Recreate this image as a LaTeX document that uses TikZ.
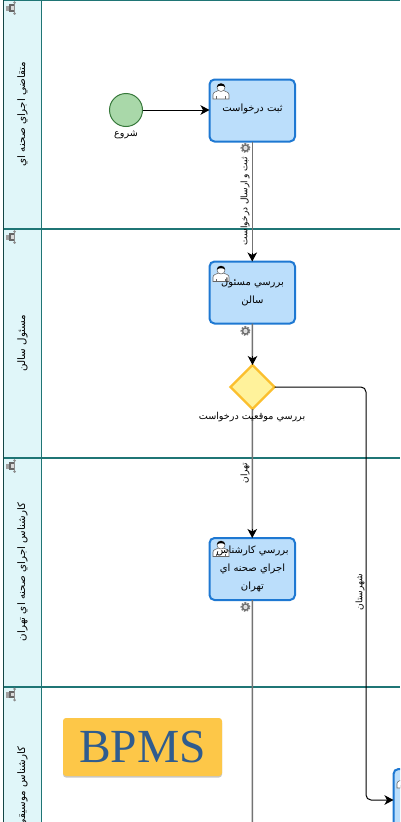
\documentclass[tikz,border=0pt]{standalone}
\usepackage{fontspec}
\usetikzlibrary{arrows.meta,shapes.geometric,shadows}
\TeXXeTstate=1
\newfontfamily\arabicfont[Script=Arabic]{DejaVu Sans}
\newfontfamily\bpmsfont{Liberation Serif}
\newcommand{\fatxt}[1]{\beginR #1\endR}
\definecolor{laneFill}{HTML}{E0F6F9}
\definecolor{laneLine}{HTML}{1F7575}
\definecolor{taskFill}{HTML}{BBDEFB}
\definecolor{taskLine}{HTML}{1E78D2}
\definecolor{startFill}{HTML}{A9D8A9}
\definecolor{startLine}{HTML}{36783A}
\definecolor{gwFill}{HTML}{FFF29B}
\definecolor{gwLine}{HTML}{FBBF2E}
\definecolor{bpmsFill}{HTML}{FDC748}
\definecolor{bpmsText}{HTML}{2F5C8F}
\tikzset{
  lanehead/.style={draw=laneLine,fill=laneFill,line width=1.2pt,minimum width=38pt,minimum height=229pt,inner sep=0pt,outer sep=0pt,anchor=north west},
  lanerule/.style={draw=laneLine,line width=1.1pt},
  lanelabel/.style={rotate=90,font=\arabicfont\fontsize{10.3}{12}\selectfont,inner sep=0pt,text=black},
  taskbox/.style={draw=taskLine,fill=taskFill,line width=2pt,rounded corners=5pt,minimum width=85.5pt,minimum height=62pt,inner sep=0pt,outer sep=0pt,anchor=north west},
  tasktext/.style={font=\arabicfont\fontsize{10}{18.5}\selectfont,align=center,inner sep=0pt,text=black},
  startev/.style={circle,draw=startLine,fill=startFill,line width=1pt,minimum size=33pt,inner sep=0pt,outer sep=0pt},
  gway/.style={diamond,draw=gwLine,fill=gwFill,line width=2.4pt,minimum width=44pt,minimum height=44pt,inner sep=0pt,outer sep=0pt},
  evlabel/.style={font=\arabicfont\fontsize{9.6}{11}\selectfont,inner sep=0pt,text=black},
  edgelabel/.style={rotate=90,font=\arabicfont\fontsize{9}{10}\selectfont,inner sep=0pt,text=black},
  flowg/.style={draw=black!55,line width=1.5pt},
  flowk/.style={draw=black,line width=1pt,rounded corners=5pt},
  tipline/.style={draw=black,line width=1pt,-{Stealth[length=9pt,width=9.5pt,inset=2.5pt]}},
  tip/.style={-{Stealth[length=9pt,width=9.5pt,inset=2.5pt]}},
  bpmsbox/.style={fill=bpmsFill,rounded corners=3pt,minimum width=159pt,minimum height=58pt,inner sep=0pt,outer sep=0pt,anchor=north west,
    text=bpmsText,font=\bpmsfont\fontsize{47.5}{50}\selectfont,drop shadow={shadow xshift=0pt,shadow yshift=-1.5pt,opacity=0.22,fill=black}},
  usericon/.pic={
    \draw[draw=black!60,fill=white,line width=0.55pt] (-8,15) -- (-8,10.5) .. controls (-8,8) and (-4,7.5) .. (-2.5,6.5) -- (2.5,6.5) .. controls (4,7.5) and (8,8) .. (8,10.5) -- (8,15) -- cycle;
    \draw[draw=black!60,fill=white,line width=0.55pt] (0,3.5) circle (4pt);
    \fill[black] (-4.2,3.2) .. controls (-4.2,-1.8) and (4.2,-1.8) .. (4.2,3.2) .. controls (2,1.2) and (-2,1.2) .. (-4.2,3.2) -- cycle;
    \draw[black!60,line width=0.55pt] (-4.5,15) -- (-4.5,12) (4.5,15) -- (4.5,12);
  },
  gearicon/.pic={
    \draw[black!50,line width=2pt,dash pattern=on 1.5pt off 1.3pt] (0,0) circle (4pt);
    \draw[black!55,line width=1.6pt] (0,0) circle (3pt);
    \fill[white!85!black] (0,0) circle (1.6pt);
  },
  laneicon/.pic={
    \fill[black!60] (-2,-4) rectangle (4,3.5);
    \fill[black!38] (-5.5,-2.5) rectangle (-2,3);
    \fill[white!85!black] (0,-2) rectangle (2.6,1.6);
    \draw[black!45,line width=1pt] (3.6,-5.5) -- (3.6,5.5);
    \fill[black!45] (3.6,-5.5) circle (1.4pt) (3.6,5.5) circle (1.4pt);
  }
}
\begin{document}
\begin{tikzpicture}[x=1pt,y=-1pt]
\useasboundingbox (0,0) rectangle (400,822);
\fill[white] (0,0) rectangle (400,822);
\begin{scope}
\clip (0,0) rectangle (400,822);
% lanes
\node[lanehead] (laneA) at (3.5,0) {};
\node[lanehead] (laneB) at (3.5,229) {};
\node[lanehead] (laneC) at (3.5,458) {};
\node[lanehead] (laneD) at (3.5,687) {};
\draw[lanerule] (3,0.5) -- (400,0.5);
\draw[lanerule] (3,229) -- (400,229);
\draw[lanerule] (3,458) -- (400,458);
\draw[lanerule] (3,687) -- (400,687);
\draw[laneLine!60!black,line width=1pt] (3.5,0) -- (3.5,822);
\node[lanelabel] (labA) at (22.5,114) {\fatxt{متقاضي اجراي صحنه اي}};
\node[lanelabel] (labB) at (22.5,343) {\fatxt{مسئول سالن}};
\node[lanelabel] (labC) at (22.5,572) {\fatxt{كارشناس اجراي صحنه اي تهران}};
\node[lanelabel] (labD) at (22.5,787) {\fatxt{كارشناس موسيقي}};
\pic at (11,8) {laneicon};
\pic at (11,237) {laneicon};
\pic at (11,466) {laneicon};
\pic at (11,694.5) {laneicon};
% coordinates
\coordinate (gwTurn) at (366,387);
\coordinate (cornerD) at (366,800);
\coordinate (bottomC) at (252.5,830);
% nodes
\node[startev] (start) at (126,110) {};
\node[evlabel] (startL) at (126,134.5) {\fatxt{شروع}};
\node[taskbox] (t1) at (209.5,79.5) {};
\node[taskbox] (t2) at (209.5,261.5) {};
\node[taskbox] (t3) at (209.5,538) {};
\node[taskbox] (t4) at (393.5,769) {};
\node[gway] (gw) at (252.5,387) {};
% connectors
\draw[flowk,tip] (start) -- (t1.west |- start.east);
\draw[flowg] (t1.south) -- ([yshift=7pt]t2.north);
\draw[flowg] (t2.south) -- ([yshift=7pt]gw.north);
\draw[flowg] (gw.south) -- ([yshift=7pt]t3.north);
\draw[flowg] (t3.south) -- (bottomC);
\draw[tipline] ([yshift=9pt]t2.north) -- (t2.north);
\draw[tipline] ([yshift=9pt]gw.north) -- (gw.north);
\draw[tipline] ([yshift=9pt]t3.north) -- (t3.north);
\draw[flowk,tip] (gw.east) -- (gwTurn) -- (cornerD) -- (t4.west |- cornerD);
% task contents
\pic at (221,84) {usericon};
\pic at (221,266.5) {usericon};
\pic at (221,541.5) {usericon};
\pic at (405,773) {usericon};
\node[tasktext] (t1L) at (252.5,108.5) {\fatxt{ثبت درخواست}};
\node[tasktext] (t2La) at (252.5,283) {\fatxt{بررسي مسئول}};
\node[tasktext] (t2Lb) at (252.5,301) {\fatxt{سالن}};
\node[tasktext] (t3La) at (252.5,550.5) {\fatxt{بررسي كارشناس}};
\node[tasktext] (t3Lb) at (252.5,568.5) {\fatxt{اجراي صحنه اي}};
\node[tasktext] (t3Lc) at (252.5,587) {\fatxt{تهران}};
\node[evlabel] (gwL) at (252,417) {\fatxt{بررسي موقعيت درخواست}};
\node[edgelabel] (e1L) at (245,201) {\fatxt{ثبت و ارسال درخواست}};
\node[edgelabel] (e2L) at (245,473) {\fatxt{تهران}};
\node[edgelabel] (e3L) at (360,592) {\fatxt{شهرستان}};
\pic at (245.5,148) {gearicon};
\pic at (245.5,331) {gearicon};
\pic at (245.5,607) {gearicon};
\node[bpmsbox] (bpms) at (63,718) {BPMS};
\end{scope}
\end{tikzpicture}
\end{document}
